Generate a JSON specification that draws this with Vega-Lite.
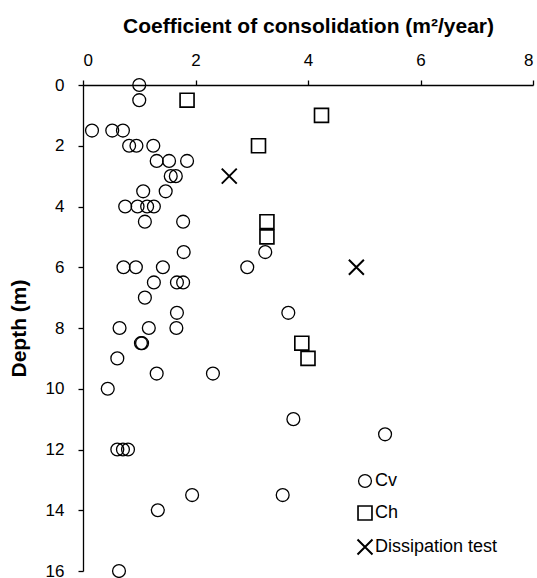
{
  "$schema": "https://vega.github.io/schema/vega-lite/v6.json",
  "width": 450,
  "height": 486,
  "autosize": {"type": "none"},
  "padding": {"left": 83, "top": 85, "right": 4, "bottom": 7},
  "background": "white",
  "config": {
    "view": {"stroke": null},
    "font": "Liberation Sans",
    "axis": {"grid": false, "domainColor": "black", "tickColor": "black", "labelColor": "black", "titleColor": "black", "domainWidth": 1.3, "tickWidth": 1.3, "tickSize": 5, "labelFontSize": 17, "titleFontSize": 21, "titleFontWeight": "bold", "labelFont": "Liberation Sans", "titleFont": "Liberation Sans"},
    "legend": {"labelFontSize": 18, "labelColor": "black", "labelFont": "Liberation Sans", "symbolStrokeColor": "black"}
  },
  "data": {
    "values": [
      {"c": 1.0, "d": 0, "type": "Cv"},
      {"c": 1.0, "d": 0.5, "type": "Cv"},
      {"c": 0.16, "d": 1.5, "type": "Cv"},
      {"c": 0.52, "d": 1.5, "type": "Cv"},
      {"c": 0.71, "d": 1.5, "type": "Cv"},
      {"c": 0.82, "d": 2, "type": "Cv"},
      {"c": 0.95, "d": 2, "type": "Cv"},
      {"c": 1.25, "d": 2, "type": "Cv"},
      {"c": 1.31, "d": 2.5, "type": "Cv"},
      {"c": 1.53, "d": 2.5, "type": "Cv"},
      {"c": 1.85, "d": 2.5, "type": "Cv"},
      {"c": 1.56, "d": 3, "type": "Cv"},
      {"c": 1.65, "d": 3, "type": "Cv"},
      {"c": 1.07, "d": 3.5, "type": "Cv"},
      {"c": 1.47, "d": 3.5, "type": "Cv"},
      {"c": 0.75, "d": 4, "type": "Cv"},
      {"c": 0.97, "d": 4, "type": "Cv"},
      {"c": 1.14, "d": 4, "type": "Cv"},
      {"c": 1.26, "d": 4, "type": "Cv"},
      {"c": 1.10, "d": 4.5, "type": "Cv"},
      {"c": 1.78, "d": 4.5, "type": "Cv"},
      {"c": 1.79, "d": 5.5, "type": "Cv"},
      {"c": 3.24, "d": 5.5, "type": "Cv"},
      {"c": 0.72, "d": 6, "type": "Cv"},
      {"c": 0.94, "d": 6, "type": "Cv"},
      {"c": 1.42, "d": 6, "type": "Cv"},
      {"c": 2.92, "d": 6, "type": "Cv"},
      {"c": 1.26, "d": 6.5, "type": "Cv"},
      {"c": 1.67, "d": 6.5, "type": "Cv"},
      {"c": 1.78, "d": 6.5, "type": "Cv"},
      {"c": 1.10, "d": 7, "type": "Cv"},
      {"c": 1.67, "d": 7.5, "type": "Cv"},
      {"c": 3.65, "d": 7.5, "type": "Cv"},
      {"c": 0.65, "d": 8, "type": "Cv"},
      {"c": 1.17, "d": 8, "type": "Cv"},
      {"c": 1.66, "d": 8, "type": "Cv"},
      {"c": 1.03, "d": 8.5, "type": "Cv"},
      {"c": 1.05, "d": 8.5, "type": "Cv"},
      {"c": 0.61, "d": 9, "type": "Cv"},
      {"c": 1.31, "d": 9.5, "type": "Cv"},
      {"c": 2.31, "d": 9.5, "type": "Cv"},
      {"c": 0.44, "d": 10, "type": "Cv"},
      {"c": 3.74, "d": 11, "type": "Cv"},
      {"c": 5.37, "d": 11.5, "type": "Cv"},
      {"c": 0.61, "d": 12, "type": "Cv"},
      {"c": 0.71, "d": 12, "type": "Cv"},
      {"c": 0.80, "d": 12, "type": "Cv"},
      {"c": 1.94, "d": 13.5, "type": "Cv"},
      {"c": 3.55, "d": 13.5, "type": "Cv"},
      {"c": 1.33, "d": 14, "type": "Cv"},
      {"c": 0.64, "d": 16, "type": "Cv"},
      {"c": 1.85, "d": 0.5, "type": "Ch"},
      {"c": 4.24, "d": 1, "type": "Ch"},
      {"c": 3.12, "d": 2, "type": "Ch"},
      {"c": 3.27, "d": 4.5, "type": "Ch"},
      {"c": 3.27, "d": 5, "type": "Ch"},
      {"c": 3.89, "d": 8.5, "type": "Ch"},
      {"c": 4.0, "d": 9, "type": "Ch"},
      {"c": 2.60, "d": 3, "type": "Dissipation test"},
      {"c": 4.86, "d": 6, "type": "Dissipation test"}
    ]
  },
  "mark": {"type": "point", "filled": false, "color": "black", "opacity": 1, "clip": false},
  "encoding": {
    "x": {
      "field": "c", "type": "quantitative",
      "scale": {"domain": [0, 8], "nice": false, "zero": false},
      "axis": {"orient": "top", "values": [0, 2, 4, 6, 8], "title": "Coefficient of consolidation (m²/year)", "labelPadding": 11, "titlePadding": 15, "labelAngle": 0}
    },
    "y": {
      "field": "d", "type": "quantitative",
      "scale": {"domain": [0, 16], "reverse": true, "nice": false, "zero": false},
      "axis": {"values": [0, 2, 4, 6, 8, 10, 12, 14, 16], "title": "Depth (m)", "labelPadding": 14, "titlePadding": 16}
    },
    "shape": {
      "field": "type", "type": "nominal",
      "scale": {"domain": ["Cv", "Ch", "Dissipation test"], "range": ["circle", "square", "M-1,-1L1,1M1,-1L-1,1"]},
      "legend": {"title": null, "orient": "none", "legendX": 273, "legendY": 387, "rowPadding": 11, "labelOffset": 1, "padding": 0}
    },
    "size": {
      "field": "type", "type": "nominal",
      "scale": {"domain": ["Cv", "Ch", "Dissipation test"], "range": [165, 225, 300]}
    },
    "strokeWidth": {
      "field": "type", "type": "nominal",
      "scale": {"domain": ["Cv", "Ch", "Dissipation test"], "range": [1.3, 2, 2]}
    }
  }
}
